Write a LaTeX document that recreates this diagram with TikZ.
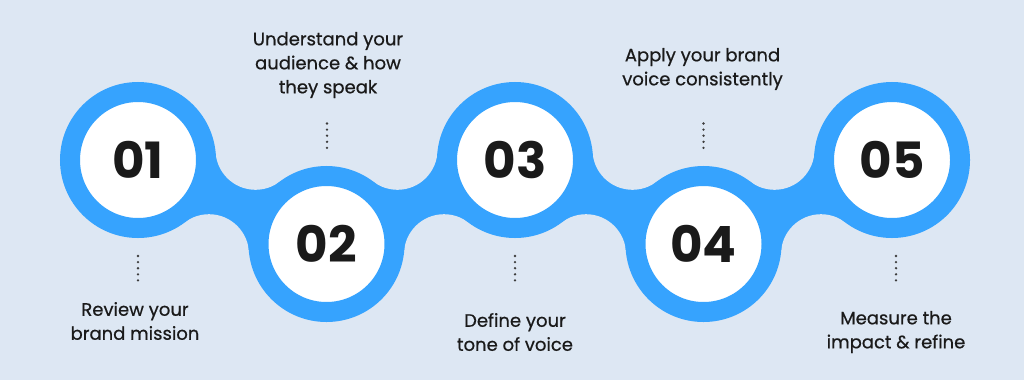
\documentclass[tikz,border=0pt]{standalone}
\usepackage{fontspec}
\setmainfont{Poppins}
\definecolor{bg}{HTML}{DDE7F3}
\definecolor{blu}{HTML}{36A3FE}
\definecolor{ink}{HTML}{1A1A1A}
\begin{document}
\begin{tikzpicture}[x=1pt,y=-1pt,
  numc/.style={circle,fill=white,draw=blu,line width=20pt,minimum size=136pt,inner sep=0pt,
    text=ink,font=\bfseries\fontsize{50}{50}\selectfont},
  lab/.style={align=center,text=ink,inner sep=0pt,
    font=\addfontfeature{FakeBold=0.6}\fontsize{18}{24}\selectfont},
  dotline/.style={draw=ink!85,line width=2.6pt,line cap=round,dash pattern=on 0pt off 6.1pt},
  fillet/.style={fill=bg}]
\fill[bg] (0,0) rectangle (1024,380);
\useasboundingbox (0,0) rectangle (1024,380);
% connector bands (down-right)
\foreach \x in {138,515}{
  \fill[blu] (\x,160) -- (\x+117.5,149.8) -- (\x+188.5,244) -- (\x+71,254.2) -- cycle;
}
% connector bands (up-right)
\foreach \x in {326.5,703.5}{
  \fill[blu] (\x,244) -- (\x+71,149.8) -- (\x+188.5,160) -- (\x+117.5,254.2) -- cycle;
}
% concave fillets
\foreach \x in {138,515}{
  \fill[fillet] (\x+117.5,149.8) circle[radius=40pt];
  \fill[fillet] (\x+71,254.2) circle[radius=40pt];
}
\foreach \x in {326.5,703.5}{
  \fill[fillet] (\x+71,149.8) circle[radius=40pt];
  \fill[fillet] (\x+117.5,254.2) circle[radius=40pt];
}
% step circles
\node[numc] (c1) at (138,160) {01};
\node[numc] (c2) at (326.5,244) {02};
\node[numc] (c3) at (515,160) {03};
\node[numc] (c4) at (703.5,244) {04};
\node[numc] (c5) at (892,160) {05};
% labels
\node[lab] (l1) at (135,321) {Review your\\brand mission};
\node[lab] (l2) at (328,65) {Understand your\\audience \& how\\they speak};
\node[lab] (l3) at (515,332) {Define your\\tone of voice};
\node[lab] (l4) at (702.5,69) {Apply your brand\\voice consistently};
\node[lab] (l5) at (896,332) {Measure the\\impact \& refine};
% dotted leaders
\coordinate (d1a) at (138,256); \coordinate (d1b) at (138,280.5);
\coordinate (d2a) at (327,123.5); \coordinate (d2b) at (327,148);
\coordinate (d3a) at (515,256); \coordinate (d3b) at (515,280.5);
\coordinate (d4a) at (703.5,123.5); \coordinate (d4b) at (703.5,148);
\coordinate (d5a) at (896,256); \coordinate (d5b) at (896,280.5);
\draw[dotline] (d1a) -- (d1b);
\draw[dotline] (d2a) -- (d2b);
\draw[dotline] (d3a) -- (d3b);
\draw[dotline] (d4a) -- (d4b);
\draw[dotline] (d5a) -- (d5b);
\end{tikzpicture}
\end{document}
